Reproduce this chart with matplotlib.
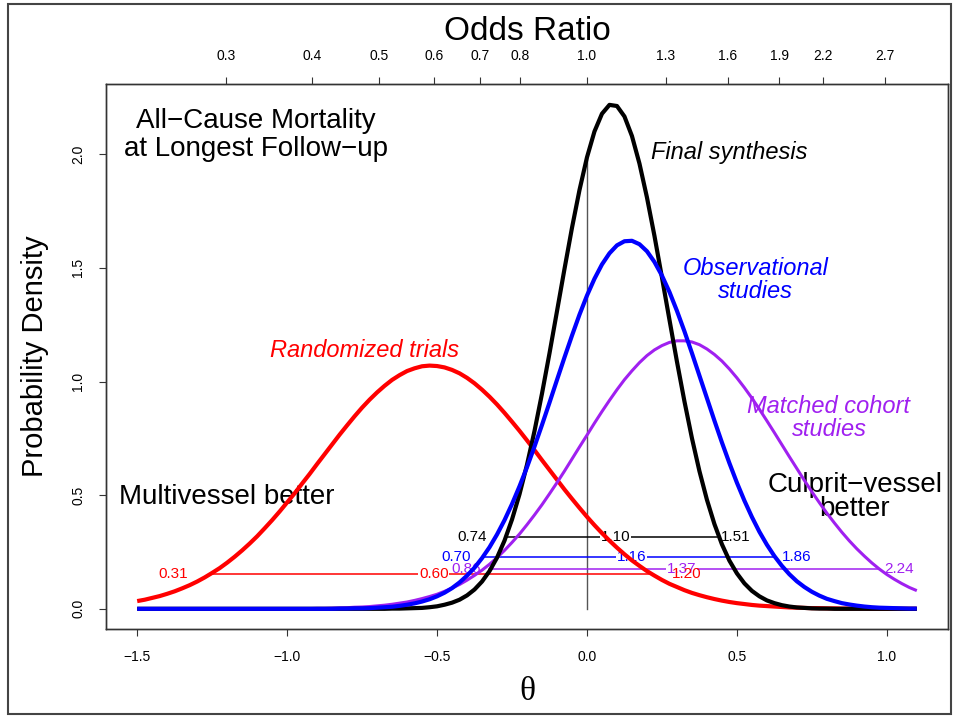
import matplotlib.pyplot as plt
import numpy as np
from matplotlib import patches

plt.rcParams["font.family"] = ["Liberation Sans", "DejaVu Sans"]

theta = [
    -1.500, -1.475, -1.450, -1.425, -1.400, -1.375, -1.350, -1.325, -1.300, -1.275,
    -1.250, -1.225, -1.200, -1.175, -1.150, -1.125, -1.100, -1.075, -1.050, -1.025,
    -1.000, -0.975, -0.950, -0.925, -0.900, -0.875, -0.850, -0.825, -0.800, -0.775,
    -0.750, -0.725, -0.700, -0.675, -0.650, -0.625, -0.600, -0.575, -0.550, -0.525,
    -0.500, -0.475, -0.450, -0.425, -0.400, -0.375, -0.350, -0.325, -0.300, -0.275,
    -0.250, -0.225, -0.200, -0.175, -0.150, -0.125, -0.100, -0.075, -0.050, -0.025,
    0.000, 0.025, 0.050, 0.075, 0.100, 0.125, 0.150, 0.175, 0.200, 0.225,
    0.250, 0.275, 0.300, 0.325, 0.350, 0.375, 0.400, 0.425, 0.450, 0.475,
    0.500, 0.525, 0.550, 0.575, 0.600, 0.625, 0.650, 0.675, 0.700, 0.725,
    0.750, 0.775, 0.800, 0.825, 0.850, 0.875, 0.900, 0.925, 0.950, 0.975,
    1.000, 1.025, 1.050, 1.075, 1.100,
]
randomized = [
    0.034, 0.040, 0.048, 0.056, 0.066, 0.077, 0.090, 0.104, 0.120, 0.138,
    0.158, 0.179, 0.203, 0.229, 0.257, 0.287, 0.319, 0.354, 0.390, 0.428,
    0.468, 0.508, 0.551, 0.593, 0.637, 0.680, 0.723, 0.766, 0.807, 0.847,
    0.885, 0.920, 0.952, 0.981, 1.007, 1.028, 1.046, 1.058, 1.067, 1.070,
    1.068, 1.062, 1.051, 1.036, 1.016, 0.992, 0.964, 0.933, 0.899, 0.862,
    0.823, 0.783, 0.741, 0.698, 0.654, 0.611, 0.568, 0.525, 0.484, 0.444,
    0.405, 0.368, 0.333, 0.300, 0.269, 0.240, 0.213, 0.189, 0.166, 0.146,
    0.127, 0.110, 0.096, 0.082, 0.070, 0.060, 0.051, 0.043, 0.036, 0.030,
    0.025, 0.021, 0.017, 0.014, 0.012, 0.010, 0.008, 0.006, 0.005, 0.004,
    0.003, 0.003, 0.002, 0.002, 0.001, 0.001, 0.001, 0.001, 0.000, 0.000,
    0.000, 0.000, 0.000, 0.000, 0.000,
]
final = [
    0.000, 0.000, 0.000, 0.000, 0.000, 0.000, 0.000, 0.000, 0.000, 0.000,
    0.000, 0.000, 0.000, 0.000, 0.000, 0.000, 0.000, 0.000, 0.000, 0.000,
    0.000, 0.000, 0.000, 0.000, 0.000, 0.000, 0.000, 0.000, 0.000, 0.000,
    0.000, 0.000, 0.000, 0.000, 0.001, 0.001, 0.002, 0.003, 0.004, 0.007,
    0.011, 0.018, 0.027, 0.040, 0.059, 0.085, 0.120, 0.166, 0.225, 0.300,
    0.393, 0.504, 0.634, 0.782, 0.947, 1.124, 1.309, 1.495, 1.676, 1.842,
    1.986, 2.100, 2.178, 2.217, 2.212, 2.166, 2.080, 1.959, 1.810, 1.641,
    1.458, 1.272, 1.088, 0.913, 0.751, 0.606, 0.480, 0.373, 0.284, 0.212,
    0.156, 0.112, 0.079, 0.055, 0.037, 0.025, 0.016, 0.010, 0.006, 0.004,
    0.002, 0.001, 0.001, 0.000, 0.000, 0.000, 0.000, 0.000, 0.000, 0.000,
    0.000, 0.000, 0.000, 0.000, 0.000,
]
observational = [
    0.000, 0.000, 0.000, 0.000, 0.000, 0.000, 0.000, 0.000, 0.000, 0.000,
    0.000, 0.000, 0.000, 0.000, 0.000, 0.000, 0.000, 0.000, 0.000, 0.000,
    0.000, 0.000, 0.000, 0.000, 0.000, 0.000, 0.000, 0.001, 0.001, 0.002,
    0.002, 0.003, 0.005, 0.007, 0.009, 0.013, 0.018, 0.024, 0.032, 0.042,
    0.055, 0.071, 0.091, 0.116, 0.146, 0.181, 0.223, 0.271, 0.327, 0.390,
    0.461, 0.539, 0.623, 0.714, 0.809, 0.907, 1.007, 1.106, 1.202, 1.294,
    1.378, 1.452, 1.515, 1.564, 1.599, 1.617, 1.619, 1.604, 1.573, 1.526,
    1.466, 1.394, 1.311, 1.221, 1.125, 1.026, 0.927, 0.828, 0.732, 0.641,
    0.555, 0.476, 0.404, 0.339, 0.282, 0.232, 0.189, 0.152, 0.121, 0.096,
    0.075, 0.058, 0.044, 0.034, 0.025, 0.019, 0.014, 0.010, 0.007, 0.005,
    0.004, 0.003, 0.002, 0.001, 0.001,
]
matched = [
    0.000, 0.000, 0.000, 0.000, 0.000, 0.000, 0.000, 0.000, 0.000, 0.000,
    0.000, 0.000, 0.000, 0.000, 0.000, 0.000, 0.000, 0.000, 0.000, 0.000,
    0.001, 0.001, 0.001, 0.001, 0.002, 0.002, 0.003, 0.004, 0.005, 0.007,
    0.008, 0.010, 0.013, 0.016, 0.020, 0.025, 0.030, 0.037, 0.045, 0.054,
    0.064, 0.077, 0.091, 0.107, 0.126, 0.147, 0.170, 0.196, 0.225, 0.257,
    0.292, 0.329, 0.370, 0.413, 0.458, 0.506, 0.555, 0.606, 0.659, 0.712,
    0.764, 0.817, 0.868, 0.917, 0.964, 1.008, 1.047, 1.083, 1.114, 1.139,
    1.158, 1.172, 1.179, 1.179, 1.174, 1.162, 1.143, 1.119, 1.090, 1.055,
    1.016, 0.973, 0.927, 0.878, 0.827, 0.775, 0.722, 0.669, 0.617, 0.565,
    0.515, 0.467, 0.421, 0.378, 0.337, 0.299, 0.264, 0.232, 0.202, 0.175,
    0.151, 0.130, 0.111, 0.094, 0.080,
]

or_ticks = [0.3, 0.4, 0.5, 0.6, 0.7, 0.8, 1.0, 1.3, 1.6, 1.9, 2.2, 2.7]
theta_ticks = [-1.5, -1.0, -0.5, 0.0, 0.5, 1.0]
density_ticks = [0.0, 0.5, 1.0, 1.5, 2.0]

# interval bars: final, observational, matched, randomized
ci_height = [0.316, 0.229, 0.176, 0.154]
ci_start = [-0.267, -0.343, -0.327, -1.253]
ci_end = [0.433, 0.625, 0.973, 0.220]
ci_lo = ["0.74", "0.70", "0.86", "0.31"]
ci_mid = ["1.10", "1.16", "1.37", "0.60"]
ci_hi = ["1.51", "1.86", "2.24", "1.20"]
ci_lo_at = [-0.333, -0.387, -0.353, -1.330]
ci_mid_at = [0.095, 0.148, 0.316, -0.511]
ci_hi_at = [0.447, 0.650, 0.990, 0.283]
ci_colors = ["black", "#0000FF", "#A020F0", "#FF0000"]

W, H = 955, 717
fig = plt.figure(figsize=(W / 100, H / 100), dpi=100)
ax = fig.add_axes([106 / W, 1 - 629 / H, (948 - 106) / W, (629 - 84) / H])

# curves, drawn above the interval bars and text
style = dict(solid_capstyle="butt", solid_joinstyle="round")
ax.plot(theta, randomized, c="#FF0000", lw=3, zorder=5, **style)
ax.plot(theta, matched, c="#A020F0", lw=2.2, zorder=5.1, **style)
ax.plot(theta, final, c="black", lw=3, zorder=5.2, **style)
ax.plot(theta, observational, c="#0000FF", lw=3, zorder=5.3, **style)

# null line up to the final synthesis curve
ax.plot([0, 0], [0, final[theta.index(0.0)]], c="#555555", lw=1.0, zorder=1.5)

for i in range(4):
    c = ci_colors[i]
    y = ci_height[i]
    ax.plot([ci_start[i], ci_end[i]], [y, y], c=c, lw=1.1, zorder=2)
    ax.text(ci_mid_at[i], y, ci_mid[i], color=c, fontsize=11, ha="center", va="center",
            zorder=2.2, bbox=dict(facecolor="white", edgecolor="none", pad=0.5))
    ax.text(ci_lo_at[i], y, ci_lo[i], color=c, fontsize=11, ha="right", va="center", zorder=2.4)
    ax.text(ci_hi_at[i], y, ci_hi[i], color=c, fontsize=11, ha="left", va="center", zorder=2.4)

# annotations
ax.text(-1.103, 2.083, "All\u2212Cause Mortality\nat Longest Follow\u2212up", fontsize=20,
        ha="center", va="center", linespacing=1.1)
ax.text(-1.2, 0.492, "Multivessel better", fontsize=20, ha="center", va="center")
ax.text(0.893, 0.492, "Culprit\u2212vessel\nbetter", fontsize=20, ha="center", va="center",
        linespacing=0.9, clip_on=True)
ax.text(0.473, 2.009, "Final synthesis", fontsize=17, style="italic", ha="center", va="center")
ax.text(-0.743, 1.138, "Randomized trials", fontsize=17, style="italic", color="#FF0000",
        ha="center", va="center")
ax.text(0.563, 1.446, "Observational\nstudies", fontsize=17, style="italic", color="#0000FF",
        ha="center", va="center", linespacing=1.0)
ax.text(0.807, 0.840, "Matched cohort\nstudies", fontsize=17, style="italic", color="#A020F0",
        ha="center", va="center", linespacing=1.0)

ax.set_xlim(-1.604, 1.204)
ax.set_ylim(-0.0888, 2.3088)

ax.set_xticks(theta_ticks)
ax.set_xticklabels([f"{v:.1f}".replace("-", "\u2212") for v in theta_ticks])
ax.set_yticks(density_ticks)
ax.set_yticklabels([f"{v:.1f}" for v in density_ticks], rotation=90, va="center", ha="right")
ax.tick_params(direction="out", length=5, width=0.8, colors="#333333", labelcolor="black",
               labelsize=10, pad=10)

top = ax.twiny()
top.set_xlim(ax.get_xlim())
top.set_xticks(np.log(or_ticks))
top.set_xticklabels([f"{v:.1f}" for v in or_ticks])
top.tick_params(direction="out", length=5, width=0.8, colors="#333333", labelcolor="black",
                labelsize=10, pad=10)

for a in (ax, top):
    for s in a.spines.values():
        s.set_color("#333333")
        s.set_linewidth(1.0)

# axis titles
fig.text(527 / W, 1 - 32 / H, "Odds Ratio", fontsize=24, ha="center", va="center")
fig.text(527 / W, 1 - 692 / H, "\u03b8", fontsize=24, ha="center", va="center",
         family="Liberation Serif")
fig.text(35 / W, 1 - 356 / H, "Probability Density", fontsize=21, rotation=90,
         ha="center", va="center")

# screenshot frame
fig.add_artist(patches.Rectangle((8 / W, 3 / H), (951 - 8) / W, (713 - 3) / H,
                                 transform=fig.transFigure, fill=False,
                                 edgecolor="#444444", lw=1.5))

fig.savefig("out.png", dpi=100)
